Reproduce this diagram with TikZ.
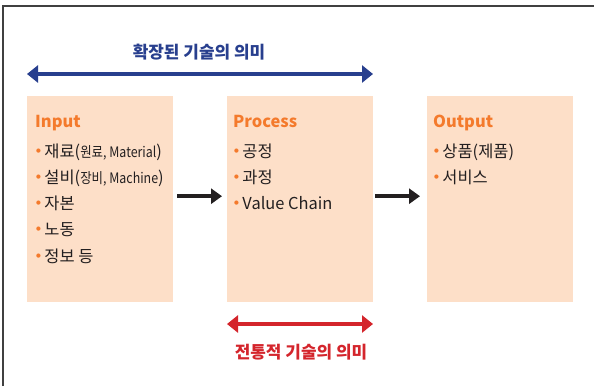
\documentclass[tikz,border=0pt]{standalone}
\usepackage{fontspec}
\setmainfont{Noto Sans CJK KR}
\newfontfamily\dotfont{DejaVu Sans}
\usepackage{graphicx}
\usetikzlibrary{calc,arrows.meta}
%
\definecolor{peach}{HTML}{FDDFC8}
\definecolor{hdorange}{HTML}{F47A2C}
\definecolor{navy}{HTML}{283F8E}
\definecolor{crimson}{HTML}{D4252C}
\definecolor{ink}{HTML}{231F20}
%
\newcommand{\itm}{{\color{hdorange}\raisebox{0.3em}{\dotfont\fontsize{5.5}{6}\selectfont ●}}\hspace{3.5bp}}
\newcommand{\paren}[1]{(\scalebox{0.86}[1]{\fontsize{14.5}{16}\selectfont #1})}
%
\begin{document}
\begin{tikzpicture}[x=1bp,y=-1bp,
  box/.style={fill=peach,draw=none,minimum width=146bp,minimum height=206bp,anchor=north west,inner sep=0},
  head/.style={anchor=base west,text=hdorange,font=\fontsize{16.5}{18}\selectfont\bfseries,inner sep=0},
  item/.style={anchor=base west,text=ink,font=\fontsize{16.5}{18}\selectfont,inner sep=0},
  span/.style={{Triangle[length=11bp,width=17bp]}-{Triangle[length=11bp,width=17bp]},line width=4.5bp},
  flow/.style={-{Triangle[length=11bp,width=15bp]},line width=4.5bp,draw=ink},
  legend/.style={font=\fontsize{17}{18}\selectfont\bfseries,inner sep=0}]
%
\def\hx{8};
\def\hy{31};
\def\iy{61};
\def\dy{26.3};
%
\useasboundingbox (0,0) rectangle (594,386);
\draw[line width=1.5bp,color=black!75](3,386)--(3,6)--(594,6);
%
\node[box](input) at (27,96){};
\node[box](process) at (227,96){};
\node[box](output) at (427,96){};
%
\node[head](inhd) at ($(input.north west)+(\hx,\hy)$){Input};
\node[head](prhd) at ($(process.north west)+(\hx-2,\hy)$){Process};
\node[head](outhd) at ($(output.north west)+(\hx-2,\hy)$){Output};
%
\foreach \t [count=\i] in {{재료\paren{원료, Material}},{설비\paren{장비, Machine}},자본,노동,정보 등}
  \node[item](in\i) at ($(input.north west)+(\hx+1,\iy+\dy*\i-\dy)$){\itm\t};
\foreach \t [count=\i] in {공정,과정,Value Chain}
  \node[item](pr\i) at ($(process.north west)+(\hx-1,\iy+\dy*\i-\dy)$){\itm\t};
\foreach \t [count=\i] in {상품(제품),서비스}
  \node[item](out\i) at ($(output.north west)+(\hx-1,\iy+\dy*\i-\dy)$){\itm\t};
%
\draw[flow,shorten <=4bp,shorten >=5bp]([yshift=3bp]input.east)--([yshift=3bp]process.west);
\draw[flow,shorten <=2bp,shorten >=7bp]([yshift=3bp]process.east)--([yshift=3bp]output.west);
%
% wide meaning on top, narrow meaning below
\coordinate (W1) at (27,74);
\coordinate (W2) at (373,74);
\draw[span,color=navy](W1)--(W2);
\node[legend,text=navy](widecap) at (199,52){확장된 기술의 의미};
%
\coordinate (N1) at (227,324);
\coordinate (N2) at (373,324);
\draw[span,color=crimson](N1)--(N2);
\node[legend,text=crimson](narrowcap) at (301,352){전통적 기술의 의미};
%
\end{tikzpicture}
\end{document}
